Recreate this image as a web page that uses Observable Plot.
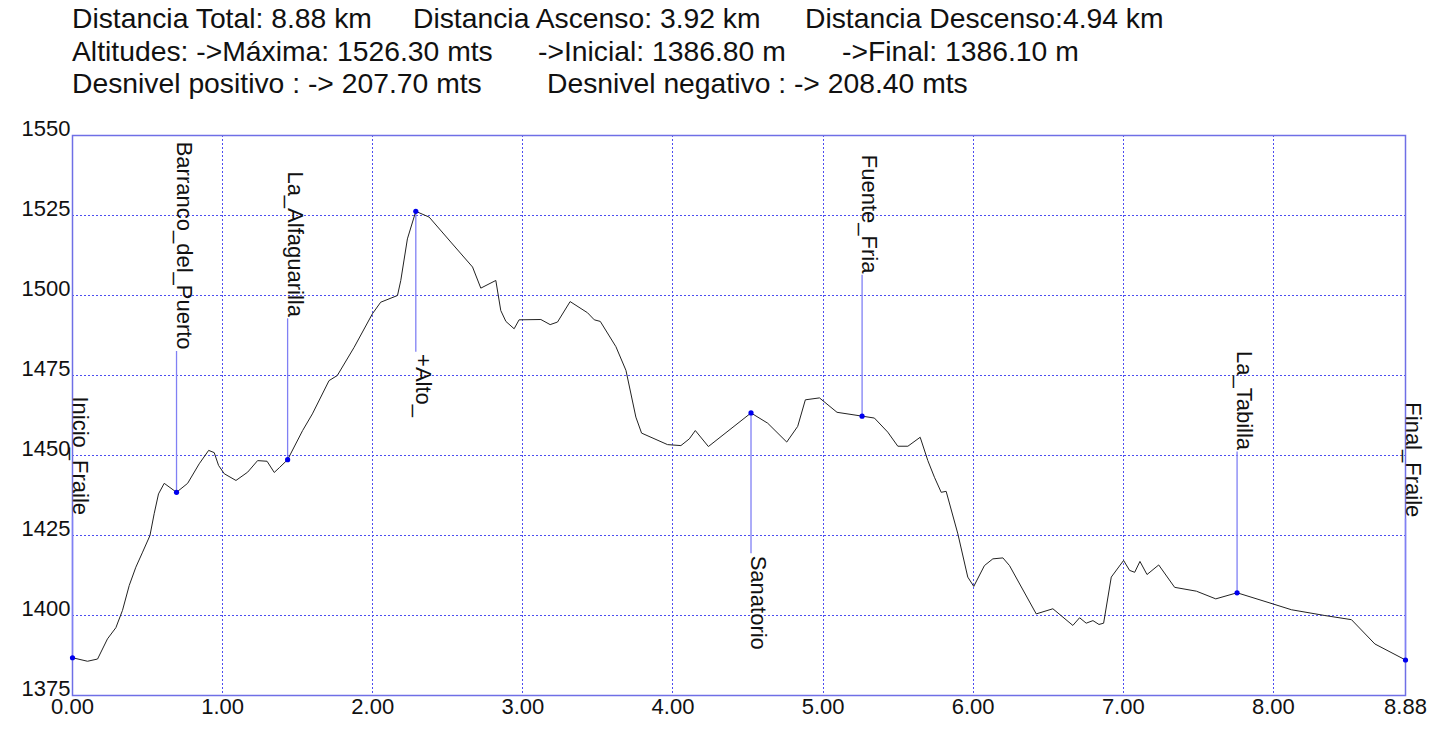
<!DOCTYPE html>
<html><head><meta charset="utf-8">
<script src="https://cdn.jsdelivr.net/npm/d3@7"></script>
<script src="https://cdn.jsdelivr.net/npm/@observablehq/plot@0.6"></script>
<style>
body{margin:0;background:#fff;font-family:"Liberation Sans",Arial,sans-serif;}
#hdr{position:relative;height:100px;font-size:28.3px;color:#111;}
#hdr span{position:absolute;white-space:pre;line-height:28px;}
</style></head><body>
<div id="hdr"></div>
<div id="chart"></div>
<script>
// Header texts
const headerTexts = [
  ["Distancia Total: 8.88 km", "Distancia Ascenso: 3.92 km", "Distancia Descenso:4.94 km"],
  ["Altitudes: ->Máxima: 1526.30 mts", "->Inicial: 1386.80 m", "->Final: 1386.10 m"],
  ["Desnivel positivo : -> 207.70 mts", "Desnivel negativo : -> 208.40 mts"]
];
// Profile data (km, m)
const profileDist = [0, 0.10, 0.167, 0.233, 0.289, 0.333, 0.378, 0.422, 0.467, 0.516, 0.544, 0.573, 0.611, 0.693, 0.767, 0.844, 0.907, 0.944, 0.973, 1.011, 1.089, 1.167, 1.233, 1.296, 1.344, 1.378, 1.433, 1.533, 1.598, 1.709, 1.764, 1.876, 1.998, 2.053, 2.165, 2.187, 2.231, 2.287, 2.376, 2.52, 2.665, 2.72, 2.82, 2.853, 2.887, 2.942, 2.975, 3.12, 3.182, 3.231, 3.315, 3.431, 3.476, 3.516, 3.62, 3.687, 3.753, 3.791, 3.964, 4.053, 4.109, 4.149, 4.236, 4.52, 4.631, 4.758, 4.831, 4.882, 4.976, 5.093, 5.26, 5.342, 5.431, 5.498, 5.565, 5.647, 5.698, 5.742, 5.787, 5.82, 5.898, 5.964, 6.004, 6.075, 6.131, 6.198, 6.242, 6.42, 6.531, 6.664, 6.709, 6.753, 6.798, 6.838, 6.869, 6.92, 7.002, 7.042, 7.076, 7.111, 7.158, 7.236, 7.342, 7.487, 7.616, 7.758, 7.998, 8.12, 8.342, 8.52, 8.676, 8.88];
const profileElev = [1386.8, 1385.7, 1386.4, 1392.7, 1396.2, 1401.6, 1409.4, 1415.1, 1419.8, 1425, 1431.8, 1438, 1441.3, 1438.5, 1441.3, 1447.4, 1451.6, 1450.9, 1446.9, 1444.3, 1442.2, 1444.8, 1448.4, 1448.2, 1444.7, 1446.2, 1448.7, 1457.8, 1463, 1473.4, 1475, 1483.8, 1494.3, 1497.9, 1500, 1504.7, 1517.7, 1526.3, 1524.5, 1516.7, 1508.9, 1502.3, 1504.7, 1495.3, 1491.9, 1489.6, 1492.4, 1492.5, 1490.9, 1491.7, 1498.1, 1494.6, 1492.4, 1491.9, 1484, 1476.6, 1462, 1457, 1453.4, 1453.1, 1455.2, 1457.8, 1452.8, 1463.3, 1460.1, 1454.2, 1459.1, 1467.4, 1468, 1463.5, 1462.3, 1461.7, 1457.3, 1452.9, 1452.9, 1455.7, 1448.4, 1443.2, 1438.5, 1438.8, 1425.5, 1412, 1409.1, 1415.6, 1417.7, 1418, 1415.6, 1400.5, 1402.1, 1396.9, 1399.3, 1397.6, 1398.4, 1397.2, 1397.6, 1412, 1417.2, 1414.1, 1413.5, 1416.9, 1412.8, 1415.8, 1408.8, 1407.6, 1405.2, 1407.1, 1403.6, 1401.8, 1400, 1398.7, 1391.1, 1386.1];
// Waypoints
const wpNames = ["Inicio_Fraile", "Barranco_del_Puerto", "La_Alfaguarilla", "+Alto_", "Sanatorio", "Fuente_Fria", "La_Tabilla", "Final_Fraile"];
const wpDist = [0, 0.693, 1.433, 2.287, 4.52, 5.26, 7.758, 8.88];
const wpElev = [1386.8, 1438.5, 1448.7, 1526.3, 1463.3, 1462.3, 1407.1, 1386.1];
const wpSide = ["up", "up", "up", "down", "down", "up", "up", "up"];
// Axes ticks
const xTicks = [0, 1, 2, 3, 4, 5, 6, 7, 8, 8.88];
const yTicks = [1375, 1400, 1425, 1450, 1475, 1500, 1525, 1550];

// header layout
const hdrLeft = [[72, 413, 805], [72, 538, 842], [72, 547]];
const hdrTop = [4, 36.5, 69];
const hdr = document.getElementById("hdr");
headerTexts.forEach((line, i) => line.forEach((t, j) => {
  const s = document.createElement("span");
  s.textContent = t;
  s.style.left = hdrLeft[i][j] + "px";
  s.style.top = hdrTop[i] + "px";
  hdr.appendChild(s);
}));

const profile = profileDist.map((d, i) => ({d, e: profileElev[i]}));
const stem = 44;
const waypoints = wpNames.map((name, i) => ({name, d: wpDist[i], e: wpElev[i], dir: wpSide[i] === "up" ? 1 : -1}));
const gridColor = "#4d4df0";

const chart = Plot.plot({
  width: 1440, height: 631,
  marginTop: 35, marginLeft: 72, marginRight: 35, marginBottom: 36,
  x: {domain: [0, 8.88], label: null},
  y: {domain: [1375, 1550], label: null},
  style: {fontFamily: "Liberation Sans, Arial, sans-serif", fontSize: "22px", color: "#111", background: "#fff", overflow: "visible"},
  marks: [
    Plot.gridX(xTicks.filter(t => t > 0 && t < 8.88), {stroke: gridColor, strokeOpacity: 1, strokeWidth: 1, strokeDasharray: "2,2", shapeRendering: "crispEdges"}),
    Plot.gridY(yTicks.filter(t => t > 1375 && t < 1550), {stroke: gridColor, strokeOpacity: 1, strokeWidth: 1, strokeDasharray: "2,2", shapeRendering: "crispEdges"}),
    Plot.frame({stroke: "#6f6fe6", strokeWidth: 1.5}),
    Plot.axisX(xTicks, {tickSize: 0, tickPadding: 3, tickFormat: d => d.toFixed(2), fill: "#111", label: null}),
    Plot.axisY(yTicks, {tickSize: 0, tickPadding: 2, dy: -7, tickFormat: d => String(d), fill: "#111", label: null}),
    Plot.ruleX(waypoints, {x: "d", y1: "e", y2: w => w.e + w.dir * stem, stroke: "#8080f4", strokeWidth: 1.3}),
    Plot.line(profile, {x: "d", y: "e", stroke: "#222", strokeWidth: 1}),
    Plot.dot(waypoints, {x: "d", y: "e", r: 2.6, fill: "#0000ee", stroke: "none"}),
    Plot.text(waypoints.filter(w => w.dir > 0), {x: "d", y: w => w.e + stem + 0.6, text: "name", rotate: 90, textAnchor: "end", lineAnchor: "bottom", fill: "#111"}),
    Plot.text(waypoints.filter(w => w.dir < 0), {x: "d", y: w => w.e - stem - 0.6, text: "name", rotate: 90, textAnchor: "start", lineAnchor: "bottom", fill: "#111"})
  ]
});
document.getElementById("chart").appendChild(chart);
</script>
</body></html>
